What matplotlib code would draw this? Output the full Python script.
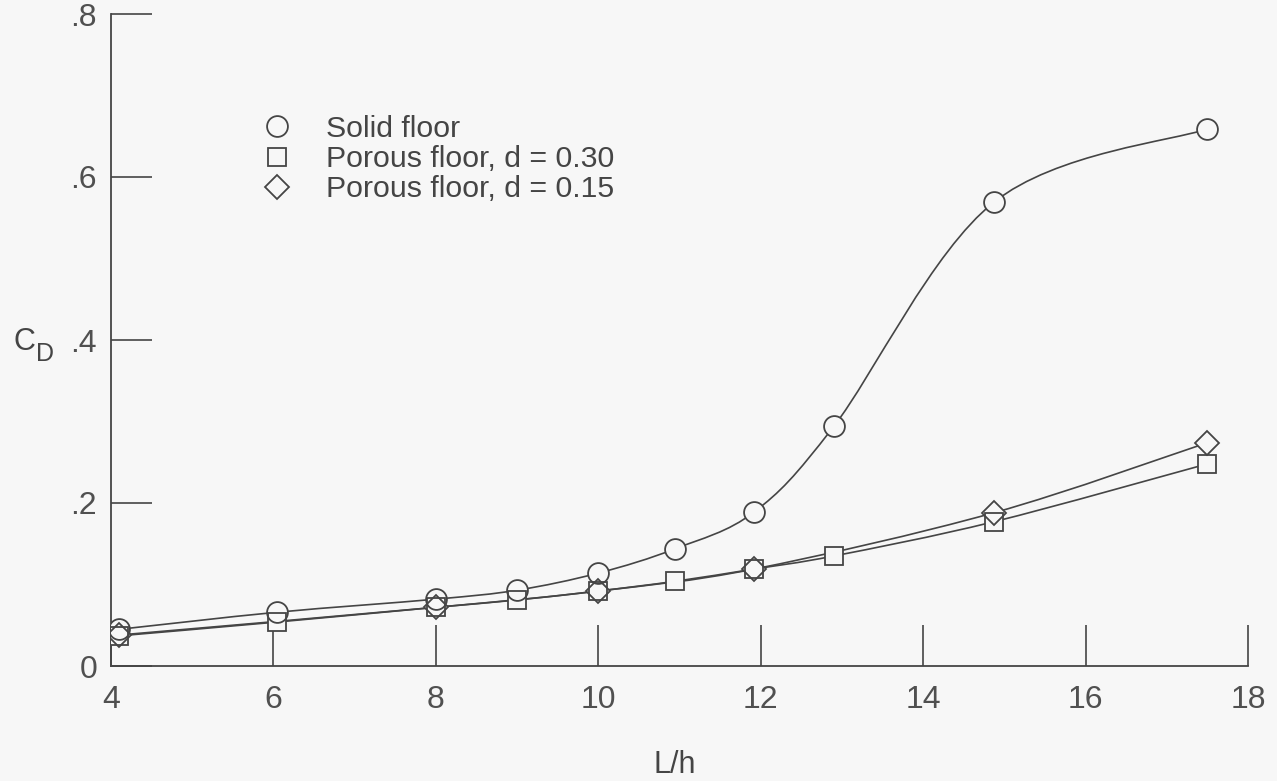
import matplotlib
matplotlib.use('Agg')
import matplotlib.pyplot as plt
import numpy as np
from matplotlib.path import Path
from matplotlib.patches import PathPatch

plt.rcParams['font.family'] = ['Liberation Sans', 'DejaVu Sans']

# data
solid_x = [4.1, 6.05, 8.0, 9.0, 10.0, 10.95, 11.92, 12.9, 14.87, 17.5]
solid_y = [0.045, 0.066, 0.082, 0.093, 0.114, 0.144, 0.189, 0.294, 0.569, 0.659]

p30_x = [4.1, 6.05, 8.0, 9.0, 10.0, 10.95, 11.92, 12.9, 14.87, 17.5]
p30_y = [0.037, 0.054, 0.072, 0.081, 0.092, 0.104, 0.119, 0.135, 0.177, 0.248]

p15_x = [4.1, 8.0, 10.0, 11.92, 14.87, 17.5]
p15_y = [0.038, 0.072, 0.092, 0.119, 0.188, 0.274]

labels = ['Solid floor', 'Porous floor, d = 0.30', 'Porous floor, d = 0.15']
xticks = [4, 6, 8, 10, 12, 14, 16, 18]
yticks = [0, 0.2, 0.4, 0.6, 0.8]
ytick_labels = ['0', '.2', '.4', '.6', '.8']

bg = '#f7f7f7'
ink = '#454545'


def smooth_path(x, y):
    # catmull-rom through the points, as cubic bezier segments
    pts = np.column_stack([x, y])
    n = len(pts)
    verts = [pts[0]]
    codes = [Path.MOVETO]
    for i in range(n - 1):
        p0 = pts[max(i - 1, 0)]
        p1 = pts[i]
        p2 = pts[i + 1]
        p3 = pts[min(i + 2, n - 1)]
        verts += [p1 + (p2 - p0) / 6, p2 - (p3 - p1) / 6, p2]
        codes += [Path.CURVE4] * 3
    return Path(verts, codes)


fig = plt.figure(figsize=(12.77, 7.81), dpi=100, facecolor=bg)
ax = fig.add_axes([111 / 1277, 115 / 781, (1248 - 111) / 1277, (666 - 14) / 781])
ax.set_facecolor(bg)

series = [
    (p30_x, p30_y, 's', 13, labels[1]),
    (p15_x, p15_y, 'D', 12.5, labels[2]),
    (solid_x, solid_y, 'o', 15, labels[0]),
]

for x, y, m, ms, lab in series:
    ax.add_patch(PathPatch(smooth_path(x, y), facecolor='none', edgecolor=ink,
                           lw=1.2, zorder=2))
    # filled with background to hide the curve inside the marker
    ax.plot(x, y, ls='none', marker=m, ms=ms, mfc=bg, mec=bg, mew=0, zorder=3)

handles = {}
for x, y, m, ms, lab in series:
    h, = ax.plot(x, y, ls='none', marker=m, ms=ms, mfc='none', mec=ink,
                 mew=1.3, zorder=4, label=lab)
    handles[lab] = h

ax.set_xlim(4, 18)
ax.set_ylim(0, 0.8)
ax.spines['top'].set_visible(False)
ax.spines['right'].set_visible(False)
for s in ['left', 'bottom']:
    ax.spines[s].set_color(ink)
    ax.spines[s].set_linewidth(1.3)

ax.set_xticks(xticks)
ax.set_xticklabels([str(t) for t in xticks])
ax.set_yticks(yticks)
ax.set_yticklabels(ytick_labels)
ax.tick_params(direction='in', length=29.5, width=1.2, color=ink,
               labelsize=23, labelcolor='#505050')
ax.tick_params(axis='x', pad=14)
ax.tick_params(axis='y', pad=10)

leg = ax.legend([handles[l] for l in labels], labels, loc='upper left',
                bbox_to_anchor=(0.1328, 0.845), frameon=False, fontsize=21.8,
                handlelength=1.0, handletextpad=1.1, labelspacing=0.07,
                borderpad=0, borderaxespad=0)
for t in leg.get_texts():
    t.set_color(ink)

fig.text(35 / 1277, 1 - 342 / 781, 'C', fontsize=22, color=ink,
         ha='right', va='center')
fig.text(36 / 1277, 1 - 354 / 781, 'D', fontsize=18, color=ink,
         ha='left', va='center')
fig.text(675 / 1277, 1 - 765 / 781, 'L/h', fontsize=22, color=ink,
         ha='center', va='center')

fig.savefig('out.png', dpi=100, facecolor=bg)
